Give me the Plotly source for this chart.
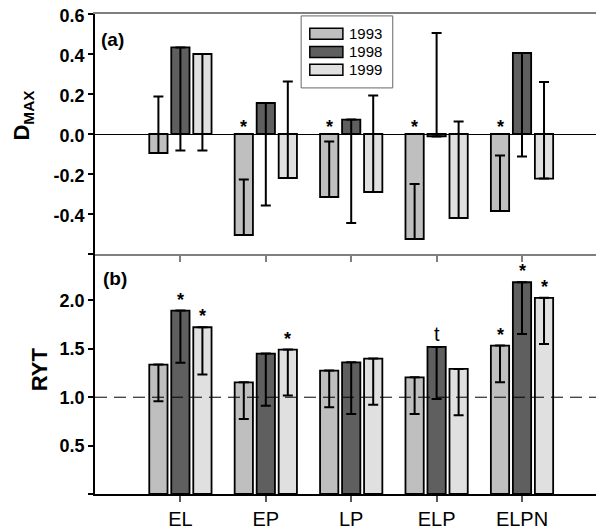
import plotly.graph_objects as go
from plotly.subplots import make_subplots

categories = ["EL", "EP", "LP", "ELP", "ELPN"]
years = ["1993", "1998", "1999"]

# Panel (a) D_MAX: bar values and error-bar end values
dmax_1993 = [-0.095, -0.505, -0.315, -0.525, -0.385]
dmax_1998 = [0.433, 0.155, 0.072, -0.012, 0.405]
dmax_1999 = [0.400, -0.220, -0.290, -0.420, -0.223]
dmax_err_1993 = [0.188, -0.228, -0.037, -0.250, -0.107]
dmax_err_1998 = [-0.082, -0.358, -0.445, 0.505, -0.113]
dmax_err_1999 = [-0.083, 0.263, 0.193, 0.063, 0.260]
dmax_sig_1993 = ["", "*", "*", "*", "*"]
dmax_sig_1998 = ["", "", "", "", ""]
dmax_sig_1999 = ["", "", "", "", ""]

# Panel (b) RYT: bar values and error-bar end values
ryt_1993 = [1.337, 1.154, 1.275, 1.206, 1.534]
ryt_1998 = [1.895, 1.451, 1.361, 1.520, 2.188]
ryt_1999 = [1.723, 1.492, 1.399, 1.292, 2.027]
ryt_err_1993 = [0.958, 0.775, 0.896, 0.827, 1.154]
ryt_err_1998 = [1.355, 0.913, 0.827, 0.982, 1.654]
ryt_err_1999 = [1.234, 1.017, 0.923, 0.813, 1.551]
ryt_sig_1993 = ["", "", "", "", "*"]
ryt_sig_1998 = ["*", "", "", "t", "*"]
ryt_sig_1999 = ["*", "*", "", "", "*"]

dmax_ticks = [-0.6, -0.4, -0.2, 0.0, 0.2, 0.4, 0.6]
dmax_ticktext = ["", "-0.4", "-0.2", "0.0", "0.2", "0.4", "0.6"]
ryt_ticks = [0.0, 0.5, 1.0, 1.5, 2.0]
ryt_ticktext = ["", "0.5", "1.0", "1.5", "2.0"]

colors = ["#bfbfbf", "#5f5f5f", "#e0e0e0"]
FONT = "Liberation Sans, Arial, sans-serif"
BARGAP = 0.227
SLOT = (1 - BARGAP) / 3

xs = list(range(len(categories)))

fig = make_subplots(rows=2, cols=1, vertical_spacing=0)


def err_arrays(vals, ends):
    plus = [max(e - v, 0) for v, e in zip(vals, ends)]
    minus = [max(v - e, 0) for v, e in zip(vals, ends)]
    return plus, minus


panels = [
    (1, [dmax_1993, dmax_1998, dmax_1999], [dmax_err_1993, dmax_err_1998, dmax_err_1999],
     [dmax_sig_1993, dmax_sig_1998, dmax_sig_1999]),
    (2, [ryt_1993, ryt_1998, ryt_1999], [ryt_err_1993, ryt_err_1998, ryt_err_1999],
     [ryt_sig_1993, ryt_sig_1998, ryt_sig_1999]),
]

annotations = []
for row, series, errs, sigs in panels:
    for j, (vals, ends, sig) in enumerate(zip(series, errs, sigs)):
        plus, minus = err_arrays(vals, ends)
        fig.add_trace(go.Bar(
            x=xs, y=vals, name=years[j], showlegend=False,
            marker=dict(color=colors[j], line=dict(color="black", width=1.8)),
            error_y=dict(type="data", symmetric=False, array=plus, arrayminus=minus,
                         color="black", thickness=2, width=5),
        ), row=row, col=1)
        yref = "y" if row == 1 else "y2"
        xref = "x" if row == 1 else "x2"
        for i, s in enumerate(sig):
            if not s:
                continue
            yy = max(vals[i], 0) if row == 1 else vals[i]
            is_t = s == "t"
            if is_t:
                ysh = 0
            elif row == 1:
                ysh = -5
            else:
                ysh = -1
            annotations.append(dict(
                x=i + (j - 1) * SLOT, y=yy, xref=xref, yref=yref, text=s,
                showarrow=False, yanchor="bottom", xanchor="center",
                yshift=ysh,
                font=dict(family=FONT, size=20 if is_t else 18, color="black",
                          weight="normal" if is_t else "bold"),
            ))

# The page body adds an 8px offset, so the figure is sized/margined to compensate.
fig.update_layout(
    width=596, height=524,
    margin=dict(l=87, r=0, t=6, b=38, autoexpand=False),
    paper_bgcolor="white", plot_bgcolor="white",
    barmode="group", bargap=BARGAP, bargroupgap=0.17,
    showlegend=False,
)

fig.update_xaxes(range=[-1, 4.96], tickvals=xs, ticktext=categories,
                 showgrid=False, zeroline=False, automargin=False)
fig.update_xaxes(row=1, col=1, showticklabels=False, showline=True, mirror=True,
                 linecolor="#7f7f7f", linewidth=1.5, ticks="outside", ticklen=6,
                 tickcolor="#7f7f7f", tickwidth=1.5)
fig.update_xaxes(row=2, col=1, showline=True, linecolor="black", linewidth=2,
                 ticks="outside", ticklen=6, tickcolor="#555555", tickwidth=1.5,
                 tickfont=dict(family=FONT, size=20, color="black"))

fig.update_yaxes(row=1, col=1, range=[-0.6, 0.6], tickvals=dmax_ticks,
                 ticktext=dmax_ticktext, ticklabeloverflow="allow", automargin=False,
                 ticklabelshift=2,
                 showgrid=False, zeroline=True, zerolinecolor="black", zerolinewidth=1,
                 showline=True, linecolor="black", linewidth=1.8,
                 ticks="outside", ticklen=5, tickwidth=1.5, tickcolor="black",
                 tickfont=dict(family=FONT, size=18, color="black", weight="bold"))
fig.update_yaxes(row=2, col=1, range=[0, 2.48], tickvals=ryt_ticks,
                 ticktext=ryt_ticktext, ticklabeloverflow="allow", automargin=False,
                 showgrid=False, zeroline=False,
                 showline=True, linecolor="black", linewidth=1.8,
                 ticks="outside", ticklen=5, tickwidth=1.5, tickcolor="black",
                 tickfont=dict(family=FONT, size=18, color="black", weight="bold"))

# Reference line at RYT = 1
fig.add_shape(type="line", xref="x2 domain", yref="y2", x0=0, x1=1, y0=1.0, y1=1.0,
              line=dict(color="black", width=1, dash="12px,7px"), layer="above")

# Axis titles and panel labels
annotations += [
    dict(x=-0.142, y=0.79, xref="paper", yref="paper", text="D<sub>MAX</sub>",
         textangle=-90, showarrow=False, xanchor="center", yanchor="middle",
         font=dict(family=FONT, size=22, color="black", weight="bold")),
    dict(x=-0.11, y=0.26, xref="paper", yref="paper", text="RYT",
         textangle=-90, showarrow=False, xanchor="center", yanchor="middle",
         font=dict(family=FONT, size=22, color="black", weight="bold")),
    dict(x=0.008, y=0.946, xref="paper", yref="paper", text="(a)", showarrow=False,
         xanchor="left", yanchor="middle",
         font=dict(family=FONT, size=19, color="black", weight="bold")),
    dict(x=0.012, y=0.45, xref="paper", yref="paper", text="(b)", showarrow=False,
         xanchor="left", yanchor="middle",
         font=dict(family=FONT, size=19, color="black", weight="bold")),
]

# Manual legend (wide swatches like the original)
leg_x0, leg_x1, leg_y0, leg_y1 = 0.405, 0.585, 0.846, 0.996
fig.add_shape(type="rect", xref="paper", yref="paper", x0=leg_x0, x1=leg_x1,
              y0=leg_y0, y1=leg_y1, line=dict(color="#666666", width=1),
              fillcolor="white", layer="above")
row_y = [0.959, 0.921, 0.884]
for j, name in enumerate(years):
    fig.add_shape(type="rect", xref="paper", yref="paper", x0=0.422, x1=0.487,
                  y0=row_y[j] - 0.0115, y1=row_y[j] + 0.0115,
                  line=dict(color="black", width=1.5), fillcolor=colors[j], layer="above")
    annotations.append(dict(x=0.496, y=row_y[j], xref="paper", yref="paper", text=name,
                            showarrow=False, xanchor="left", yanchor="middle",
                            font=dict(family=FONT, size=15, color="black")))

fig.update_layout(annotations=annotations)
fig.write_html("out.html")
